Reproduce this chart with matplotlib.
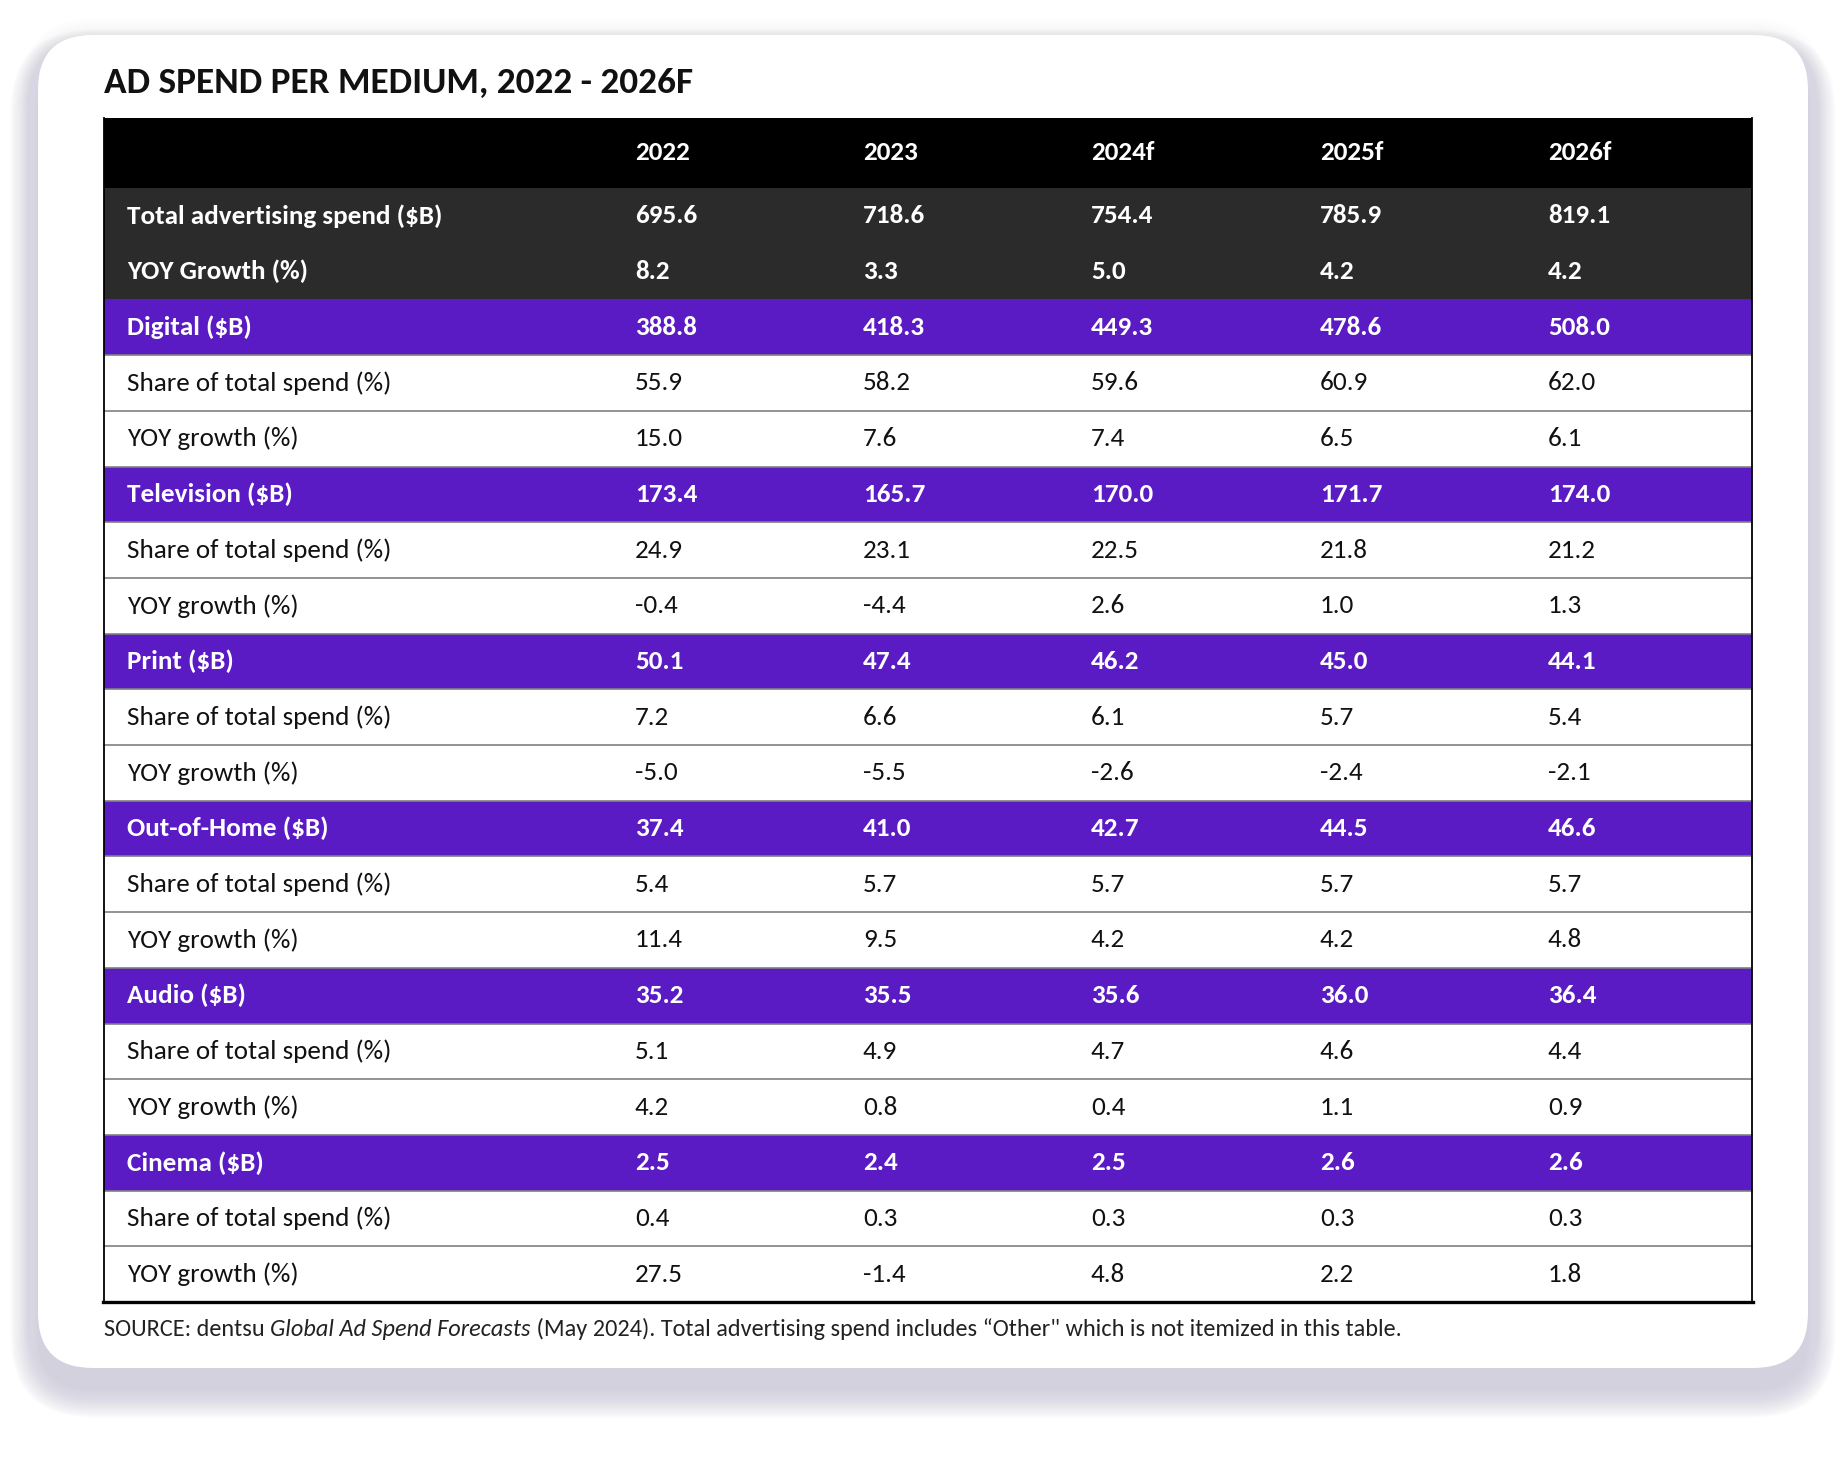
import numpy as np
import matplotlib.pyplot as plt
from matplotlib.patches import FancyBboxPatch, Rectangle

plt.rcParams['font.family'] = ['Carlito', 'Lato', 'DejaVu Sans']

# data
years = ['2022', '2023', '2024f', '2025f', '2026f']
total_spend = [695.6, 718.6, 754.4, 785.9, 819.1]
total_growth = [8.2, 3.3, 5.0, 4.2, 4.2]
media = ['Digital', 'Television', 'Print', 'Out-of-Home', 'Audio', 'Cinema']
spend = [[388.8, 418.3, 449.3, 478.6, 508.0],
         [173.4, 165.7, 170.0, 171.7, 174.0],
         [50.1, 47.4, 46.2, 45.0, 44.1],
         [37.4, 41.0, 42.7, 44.5, 46.6],
         [35.2, 35.5, 35.6, 36.0, 36.4],
         [2.5, 2.4, 2.5, 2.6, 2.6]]
share = [[55.9, 58.2, 59.6, 60.9, 62.0],
         [24.9, 23.1, 22.5, 21.8, 21.2],
         [7.2, 6.6, 6.1, 5.7, 5.4],
         [5.4, 5.7, 5.7, 5.7, 5.7],
         [5.1, 4.9, 4.7, 4.6, 4.4],
         [0.4, 0.3, 0.3, 0.3, 0.3]]
growth = [[15.0, 7.6, 7.4, 6.5, 6.1],
          [-0.4, -4.4, 2.6, 1.0, 1.3],
          [-5.0, -5.5, -2.6, -2.4, -2.1],
          [11.4, 9.5, 4.2, 4.2, 4.8],
          [4.2, 0.8, 0.4, 1.1, 0.9],
          [27.5, -1.4, 4.8, 2.2, 1.8]]

# rows: label, values, kind
rows = [('Total advertising spend ($B)', total_spend, 'dark'),
        ('YOY Growth (%)', total_growth, 'dark')]
for m, s, sh, g in zip(media, spend, share, growth):
    rows.append((m + ' ($B)', s, 'purple'))
    rows.append(('Share of total spend (%)', sh, 'white'))
    rows.append(('YOY growth (%)', g, 'white'))

W, H = 1846, 1464
fig = plt.figure(figsize=(W / 100, H / 100), dpi=100)
ax = fig.add_axes([0, 0, 1, 1])
ax.set_xlim(0, W)
ax.set_ylim(H, 0)
ax.axis('off')

# card + shadow (mostly below)
cx0, cy0, cw, ch, cr = 38, 35, 1770, 1333, 55
for k in range(26):
    s = k * 1.1
    ax.add_patch(FancyBboxPatch((cx0 - s, cy0 - s + 22), cw + 2 * s, ch + 2 * s,
                                boxstyle=f'round,pad=0,rounding_size={cr + s}',
                                fc='#c4c2d6', ec='none', alpha=0.04, zorder=1))
for k in range(12):
    s = k * 1.5
    ax.add_patch(FancyBboxPatch((cx0 - s, cy0 - s), cw + 2 * s, ch + 2 * s,
                                boxstyle=f'round,pad=0,rounding_size={cr + s}',
                                fc='#d8d6e2', ec='none', alpha=0.02, zorder=1))
ax.add_patch(FancyBboxPatch((cx0, cy0), cw, ch,
                            boxstyle=f'round,pad=0,rounding_size={cr}',
                            fc='white', ec='none', zorder=2))

ax.text(104, 83, 'AD SPEND PER MEDIUM, 2022 - 2026F', fontsize=26.8, fontweight='bold',
        ha='left', va='center', color='#111111', zorder=5)

# table geometry
tx0, tx1 = 104, 1752
head_top, head_bot = 118, 188
row_h = (1302 - head_bot) / len(rows)
label_x = 127
col_x = [635, 863, 1091, 1320, 1548]
colors = {'dark': '#2b2b2b', 'purple': '#5a1ac4', 'white': 'white'}
fs = 19.5

ax.add_patch(Rectangle((tx0, head_top), tx1 - tx0, head_bot - head_top, fc='black', ec='none', zorder=3))
for x, yr in zip(col_x, years):
    ax.text(x, (head_top + head_bot) / 2, yr, fontsize=fs, fontweight='bold', color='white',
            ha='left', va='center', zorder=5)

for i, (lab, vals, kind) in enumerate(rows):
    y0 = head_bot + i * row_h
    ax.add_patch(Rectangle((tx0, y0), tx1 - tx0, row_h, fc=colors[kind], ec='none', zorder=3))
    tc = '#111111' if kind == 'white' else 'white'
    fw = 'normal' if kind == 'white' else 'bold'
    yc = y0 + row_h / 2
    ax.text(label_x, yc, lab, fontsize=fs, fontweight=fw, color=tc, ha='left', va='center', zorder=5)
    for x, v in zip(col_x, vals):
        ax.text(x, yc, f'{v:.1f}', fontsize=fs, fontweight=fw, color=tc, ha='left', va='center', zorder=5)
    if i >= 2 and i < len(rows) - 1:
        ax.plot([tx0, tx1], [y0 + row_h, y0 + row_h], color='#808080', lw=1.2, zorder=4)

# borders
ax.plot([tx0, tx0], [head_top, 1302], color='black', lw=1.3, zorder=4)
ax.plot([tx1, tx1], [head_top, 1302], color='black', lw=1.3, zorder=4)
ax.plot([tx0 - 1, tx1 + 1], [1302, 1302], color='black', lw=2.4, zorder=4)

# footnote with italic part
fig.canvas.draw()
rend = fig.canvas.get_renderer()
parts = [('SOURCE: dentsu ', 'normal'), ('Global Ad Spend Forecasts', 'italic'),
         (' (May 2024). Total advertising spend includes \u201cOther" which is not itemized in this table.', 'normal')]
fx = 104
for txt, st in parts:
    t = ax.text(fx, 1329, txt, fontsize=17.5, fontstyle=st, color='#222222',
                ha='left', va='center', zorder=5)
    bb = t.get_window_extent(renderer=rend)
    fx += bb.width

fig.savefig('out.png', dpi=100)
